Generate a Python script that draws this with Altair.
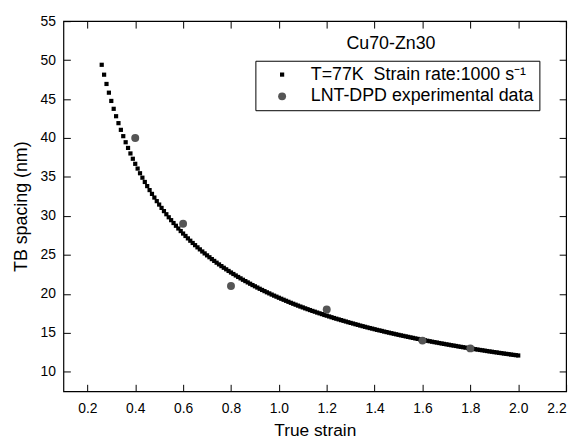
import altair as alt
import pandas as pd

# ---- data ----
S1 = "T=77K\u00a0 Strain rate:1000 s\u207b\u00b9"
S2 = "LNT-DPD experimental data"

curve_x = [
    0.26, 0.27, 0.28, 0.29, 0.30, 0.31, 0.32, 0.33, 0.34, 0.35,
    0.36, 0.37, 0.38, 0.39, 0.40, 0.41, 0.42, 0.43, 0.44, 0.45,
    0.46, 0.47, 0.48, 0.49, 0.50, 0.51, 0.52, 0.53, 0.54, 0.55,
    0.56, 0.57, 0.58, 0.59, 0.60, 0.61, 0.62, 0.63, 0.64, 0.65,
    0.66, 0.67, 0.68, 0.69, 0.70, 0.71, 0.72, 0.73, 0.74, 0.75,
    0.76, 0.77, 0.78, 0.79, 0.80, 0.81, 0.82, 0.83, 0.84, 0.85,
    0.86, 0.87, 0.88, 0.89, 0.90, 0.91, 0.92, 0.93, 0.94, 0.95,
    0.96, 0.97, 0.98, 0.99, 1.00, 1.01, 1.02, 1.03, 1.04, 1.05,
    1.06, 1.07, 1.08, 1.09, 1.10, 1.11, 1.12, 1.13, 1.14, 1.15,
    1.16, 1.17, 1.18, 1.19, 1.20, 1.21, 1.22, 1.23, 1.24, 1.25,
    1.26, 1.27, 1.28, 1.29, 1.30, 1.31, 1.32, 1.33, 1.34, 1.35,
    1.36, 1.37, 1.38, 1.39, 1.40, 1.41, 1.42, 1.43, 1.44, 1.45,
    1.46, 1.47, 1.48, 1.49, 1.50, 1.51, 1.52, 1.53, 1.54, 1.55,
    1.56, 1.57, 1.58, 1.59, 1.60, 1.61, 1.62, 1.63, 1.64, 1.65,
    1.66, 1.67, 1.68, 1.69, 1.70, 1.71, 1.72, 1.73, 1.74, 1.75,
    1.76, 1.77, 1.78, 1.79, 1.80, 1.81, 1.82, 1.83, 1.84, 1.85,
    1.86, 1.87, 1.88, 1.89, 1.90, 1.91, 1.92, 1.93, 1.94, 1.95,
    1.96, 1.97, 1.98, 1.99, 2.00,
]
curve_y = [
    49.40, 48.13, 46.94, 45.82, 44.76, 43.75, 42.80, 41.91, 41.05, 40.24,
    39.46, 38.73, 38.02, 37.34, 36.69, 36.08, 35.48, 34.91, 34.36, 33.83,
    33.32, 32.83, 32.36, 31.90, 31.46, 31.03, 30.62, 30.22, 29.83, 29.46,
    29.09, 28.74, 28.39, 28.06, 27.74, 27.43, 27.12, 26.82, 26.53, 26.25,
    25.97, 25.71, 25.44, 25.19, 24.94, 24.70, 24.46, 24.23, 24.00, 23.78,
    23.56, 23.35, 23.15, 22.94, 22.74, 22.55, 22.36, 22.17, 21.99, 21.81,
    21.64, 21.47, 21.30, 21.13, 20.97, 20.81, 20.65, 20.50, 20.35, 20.20,
    20.06, 19.91, 19.77, 19.64, 19.50, 19.37, 19.24, 19.11, 18.98, 18.85,
    18.73, 18.61, 18.49, 18.37, 18.26, 18.14, 18.03, 17.92, 17.81, 17.71,
    17.60, 17.50, 17.40, 17.29, 17.20, 17.10, 17.00, 16.90, 16.81, 16.72,
    16.63, 16.54, 16.45, 16.36, 16.27, 16.19, 16.10, 16.02, 15.93, 15.85,
    15.77, 15.69, 15.61, 15.54, 15.46, 15.38, 15.31, 15.24, 15.16, 15.09,
    15.02, 14.95, 14.88, 14.81, 14.74, 14.67, 14.61, 14.54, 14.48, 14.41,
    14.35, 14.28, 14.22, 14.16, 14.10, 14.04, 13.98, 13.92, 13.86, 13.80,
    13.75, 13.69, 13.63, 13.58, 13.52, 13.47, 13.41, 13.36, 13.31, 13.25,
    13.20, 13.15, 13.10, 13.05, 13.00, 12.95, 12.90, 12.85, 12.80, 12.76,
    12.71, 12.66, 12.61, 12.57, 12.52, 12.48, 12.43, 12.39, 12.34, 12.30,
    12.26, 12.21, 12.17, 12.13, 12.09,
]

exp_x = [0.4, 0.6, 0.8, 1.2, 1.6, 1.8]
exp_y = [40, 29, 21, 18, 14, 13]

x_ticks = [0.2, 0.4, 0.6, 0.8, 1.0, 1.2, 1.4, 1.6, 1.8, 2.0, 2.2]
y_ticks = [10, 15, 20, 25, 30, 35, 40, 45, 50, 55]

curve = pd.DataFrame({"x": curve_x, "y": curve_y, "series": S1})
exp = pd.DataFrame({"x": exp_x, "y": exp_y, "series": S2})

xs = alt.Scale(domain=[0.1, 2.2], nice=False, zero=False)
ys = alt.Scale(domain=[7.5, 55], nice=False, zero=False)

leg = alt.Legend(
    title=None, orient="none", legendX=194, legendY=40,
    strokeColor="black", fillColor="white", padding=5,
    labelFontSize=18, labelLimit=400, labelColor="black",
    symbolOffset=13, labelOffset=20, rowPadding=4,
    labelFont="Liberation Sans",
)
color = alt.Color("series:N", scale=alt.Scale(domain=[S1, S2], range=["#000000", "#555555"]), legend=leg)
shape = alt.Shape("series:N", scale=alt.Scale(domain=[S1, S2], range=["square", "circle"]), legend=leg)
size = alt.Size("series:N", scale=alt.Scale(domain=[S1, S2], range=[18, 64]), legend=leg)

tick_common = dict(labels=False, domain=False, grid=False, title=None,
                   tickSize=7, tickColor="black", tickWidth=1)

main = alt.Chart(curve).mark_point(filled=True, opacity=1).encode(
    x=alt.X("x:Q", scale=xs, axis=alt.Axis(
        orient="bottom", values=x_ticks, format=".1f", ticks=False, tickSize=0,
        domain=False, grid=False, labelPadding=10, title="True strain", titlePadding=7,
        titleFontSize=17.5)),
    y=alt.Y("y:Q", scale=ys, axis=alt.Axis(
        orient="left", values=y_ticks, ticks=False, tickSize=0,
        domain=False, grid=False, labelPadding=8, title="TB spacing (nm)", titlePadding=10)),
    color=color, shape=shape, size=size,
)

pts = alt.Chart(exp).mark_point(filled=True, opacity=1).encode(
    x=alt.X("x:Q", scale=xs, axis=alt.Axis(orient="bottom", offset=-7, values=x_ticks, **tick_common)),
    y=alt.Y("y:Q", scale=ys, axis=alt.Axis(orient="left", offset=-7, values=y_ticks, **tick_common)),
    color=color, shape=shape, size=size,
)

mirror = alt.Chart(exp).mark_point(opacity=0).encode(
    x=alt.X("x:Q", scale=xs, axis=alt.Axis(orient="top", offset=-7, values=x_ticks, **tick_common)),
    y=alt.Y("y:Q", scale=ys, axis=alt.Axis(orient="right", offset=-7, values=y_ticks, **tick_common)),
)

label = alt.Chart(pd.DataFrame({"t": ["Cu70-Zn30"]})).mark_text(
    fontSize=18, font="Liberation Sans", align="center", baseline="middle", color="black"
).encode(text="t:N", x=alt.value(331), y=alt.value(23))

chart = alt.layer(main, pts, mirror, label).resolve_axis(
    x="independent", y="independent"
).properties(
    width=508, height=374,
    autosize=alt.AutoSizeParams(type="none"),
    padding={"left": 56, "top": 11, "right": 10, "bottom": 50},
    background="white",
).configure_view(
    stroke="black", strokeWidth=1.2
).configure_axis(
    labelFont="Liberation Sans", titleFont="Liberation Sans",
    labelFontSize=14, titleFontSize=18, labelColor="black", titleColor="black",
    titleFontWeight="normal",
)

chart.save("out.html", embed_options={"renderer": "svg", "actions": False})
